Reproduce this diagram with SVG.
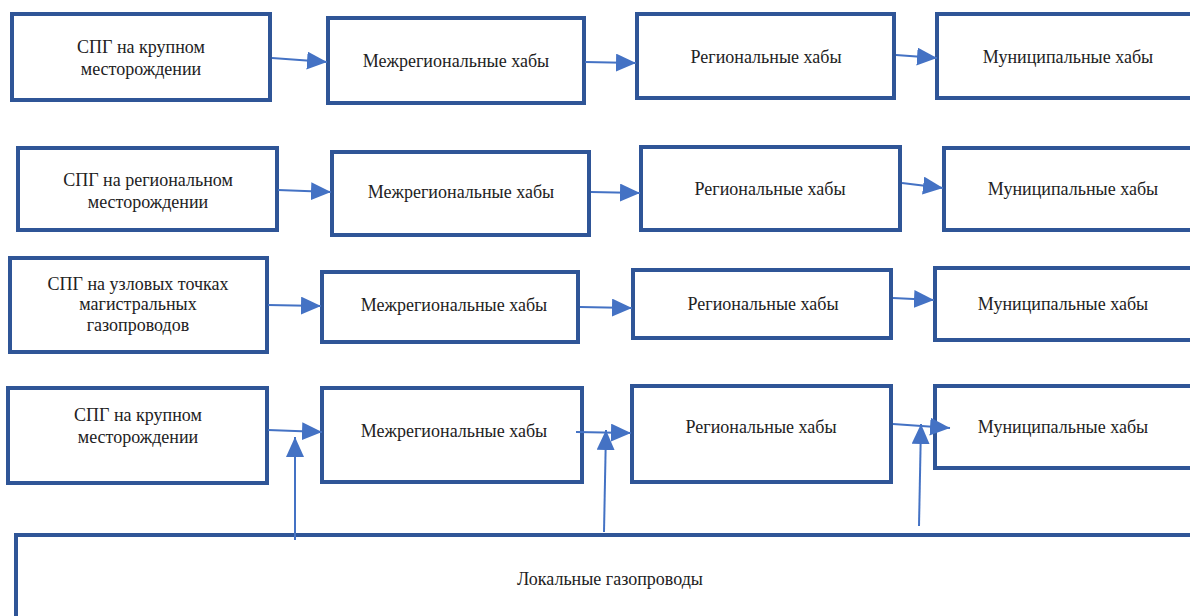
<svg xmlns="http://www.w3.org/2000/svg" width="1190" height="616" viewBox="0 0 1190 616">
<defs>
<style>
.box{fill:#fff;stroke:#2F5597;stroke-width:4}
.t{font-family:"Liberation Serif","Times New Roman",serif;font-size:18px;fill:#222;text-anchor:middle}
.c{stroke:#4472C4;stroke-width:2;fill:none;marker-end:url(#ah)}
</style>
<marker id="ah" markerUnits="userSpaceOnUse" markerWidth="22" markerHeight="18" refX="20" refY="9" orient="auto">
<path d="M0,0 L20,9 L0,18 Z" fill="#4472C4"/>
</marker>
</defs>
<rect width="1190" height="616" fill="#fff"/>

<g id="r1n1"><rect class="box" x="12" y="14" width="258" height="86"/><text class="t" x="141" y="53">СПГ на крупном</text><text class="t" x="141" y="75">месторождении</text></g>
<g id="r1n2"><rect class="box" x="328" y="18" width="256" height="85"/><text class="t" x="456" y="67">Межрегиональные хабы</text></g>
<g id="r1n3"><rect class="box" x="637" y="14" width="257" height="84"/><text class="t" x="766" y="63">Региональные хабы</text></g>
<g id="r1n4"><rect class="box" x="937" y="14" width="260" height="84"/><text class="t" x="1068" y="63">Муниципальные хабы</text></g>

<g id="r2n1"><rect class="box" x="18" y="148" width="259" height="82"/><text class="t" x="148" y="186">СПГ на региональном</text><text class="t" x="148" y="208">месторождении</text></g>
<g id="r2n2"><rect class="box" x="332" y="152" width="257" height="83"/><text class="t" x="461" y="198">Межрегиональные хабы</text></g>
<g id="r2n3"><rect class="box" x="641" y="147" width="259" height="83"/><text class="t" x="770" y="195">Региональные хабы</text></g>
<g id="r2n4"><rect class="box" x="944" y="148" width="253" height="82"/><text class="t" x="1073" y="195">Муниципальные хабы</text></g>

<g id="r3n1"><rect class="box" x="10" y="258" width="257" height="94"/><text class="t" x="138" y="290">СПГ на узловых точках</text><text class="t" x="138" y="310">магистральных</text><text class="t" x="138" y="331">газопроводов</text></g>
<g id="r3n2"><rect class="box" x="322" y="272" width="256" height="70"/><text class="t" x="454" y="311">Межрегиональные хабы</text></g>
<g id="r3n3"><rect class="box" x="633" y="270" width="258" height="68"/><text class="t" x="763" y="310">Региональные хабы</text></g>
<g id="r3n4"><rect class="box" x="935" y="268" width="262" height="72"/><text class="t" x="1063" y="310">Муниципальные хабы</text></g>

<g id="r4n1"><rect class="box" x="8" y="388" width="259" height="95"/><text class="t" x="138" y="421">СПГ на крупном</text><text class="t" x="138" y="443">месторождении</text></g>
<g id="r4n2"><rect class="box" x="322" y="388" width="260" height="94"/><text class="t" x="454" y="437">Межрегиональные хабы</text></g>
<g id="r4n3"><rect class="box" x="632" y="386" width="259" height="96"/><text class="t" x="761" y="433">Региональные хабы</text></g>
<g id="r4n4"><rect class="box" x="935" y="386" width="262" height="82"/><text class="t" x="1063" y="433">Муниципальные хабы</text></g>

<g id="local"><rect class="box" x="16" y="535" width="1190" height="100"/><text class="t" x="610" y="585">Локальные газопроводы</text></g>

<g id="connectors">
<path class="c" d="M272,58 L327,62"/>
<path class="c" d="M585,62 L636,63"/>
<path class="c" d="M896,55 L937,58"/>
<path class="c" d="M278,190 L331,192"/>
<path class="c" d="M591,192 L640,193"/>
<path class="c" d="M902,183 L943,188"/>
<path class="c" d="M268,305 L321,306"/>
<path class="c" d="M580,307 L632,308"/>
<path class="c" d="M893,298 L934,300"/>
<path class="c" d="M268,430 L322,432"/>
<path class="c" d="M576,432 L631,433"/>
<path class="c" d="M893,424 L950,428"/>
<path class="c" d="M295,540 L295,437"/>
<path class="c" d="M604,532 L606,430"/>
<path class="c" d="M919,526 L921,424"/>
</g>
</svg>
